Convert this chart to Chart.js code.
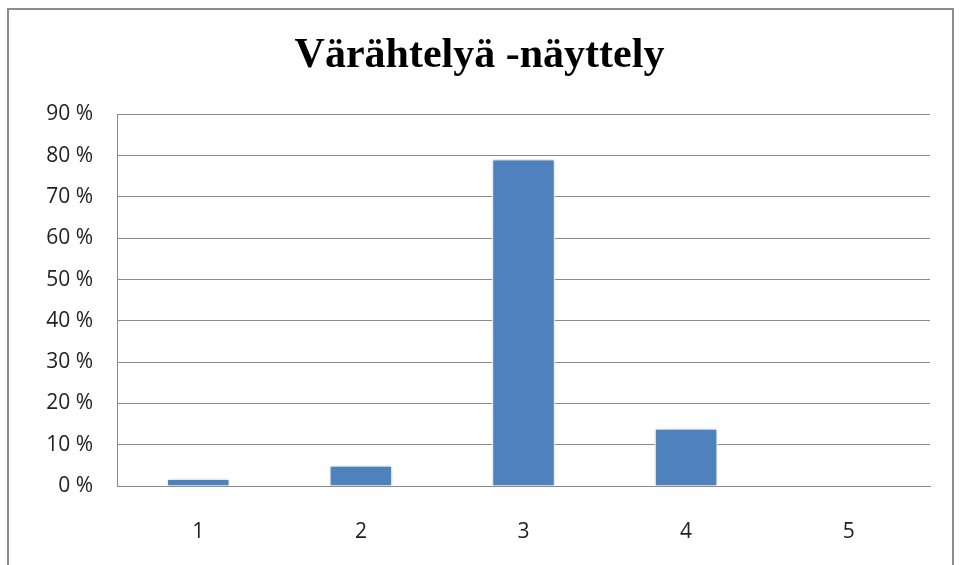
<!DOCTYPE html>
<html>
<head>
<meta charset="utf-8">
<script src="https://cdn.jsdelivr.net/npm/chart.js@4"></script>
<style>
  html, body { margin: 0; padding: 0; background: #fff; }
  #wrap { position: relative; width: 959px; height: 565px; overflow: hidden; }
  #frame { position: absolute; left: 7px; top: 8px; width: 943px; height: 600px; border: 2px solid #8c8c8c; }
  canvas { position: absolute; left: 0; top: 0; }
</style>
</head>
<body>
<div id="wrap">
  <div id="frame"></div>
  <canvas id="graph" width="959" height="565"></canvas>
</div>
<script>
const titre = 'Värähtelyä -näyttely';
const categories = ['1', '2', '3', '4', '5'];
const valeurs = [1.8, 5, 79.2, 14, 0]; // en %
const ticksY = [0, 10, 20, 30, 40, 50, 60, 70, 80, 90];

const gris = '#8a8a8a';
const police = "'Open Sans', 'Noto Sans', sans-serif";

// ombre légère autour des barres
const ombreBarres = {
    id: 'ombreBarres',
    beforeDatasetDraw(chart) {
        const ctx = chart.ctx;
        ctx.save();
        ctx.shadowColor = 'rgba(0,0,0,0.22)';
        ctx.shadowBlur = 4;
    },
    afterDatasetDraw(chart) {
        chart.ctx.restore();
    }
};

const ctx = document.getElementById('graph').getContext('2d');
new Chart(ctx, {
    type: 'bar',
    data: {
        labels: categories,
        datasets: [{
            data: valeurs,
            backgroundColor: '#4f81bd',
            borderColor: '#ffffff',
            borderWidth: 1.5,
            categoryPercentage: 1,
            barPercentage: 0.39
        }]
    },
    options: {
        responsive: false,
        animation: false,
        layout: { padding: 0 },
        plugins: {
            legend: { display: false },
            tooltip: { enabled: false },
            title: {
                display: true,
                text: titre,
                color: '#000',
                font: { family: "'Liberation Serif', 'DejaVu Serif', serif", size: 42, weight: 'bold', lineHeight: 1.2 },
                padding: { top: 31, bottom: 33 }
            }
        },
        scales: {
            x: {
                afterFit: s => { s.height = 79; },
                grid: { display: false, drawTicks: false },
                border: { display: true, color: gris, width: 1 },
                ticks: { color: '#222', padding: 33, font: { family: police, size: 21 } }
            },
            y: {
                min: 0,
                max: 90,
                afterFit: s => { s.width = 117; },
                afterBuildTicks: s => { s.ticks = ticksY.map(v => ({ value: v })); },
                grid: { color: gris, lineWidth: 1, drawTicks: false },
                border: { display: true, color: gris, width: 1 },
                ticks: {
                    color: '#222',
                    padding: 24,
                    font: { family: police, size: 21 },
                    callback: v => v + ' %'
                }
            },
            // marge droite : axe vide pour garder le titre centré sur la page
            droite: {
                position: 'right',
                afterFit: s => { s.width = 29; },
                grid: { display: false, drawTicks: false },
                border: { display: false },
                ticks: { display: false }
            }
        }
    },
    plugins: [ombreBarres]
});
</script>
</body>
</html>
